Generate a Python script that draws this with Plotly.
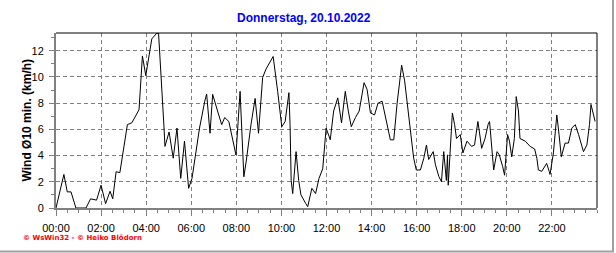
import pandas as pd
import plotly.graph_objects as go

times = ["00:00","00:21","00:30","00:40","00:53","01:20","01:32","01:48","02:00","02:12",
         "02:24","02:31","02:40","02:50","03:10","03:22","03:41","03:50","03:59","04:06",
         "04:15","04:27","04:33","04:47","04:50","05:01","05:12","05:22","05:32","05:42",
         "05:53","06:02","06:22","06:36","06:41","06:50","06:57","07:10","07:21","07:29",
         "07:40","07:59","08:10","08:20","08:26","08:39","08:50","08:59","09:10","09:19",
         "09:38","09:50","10:01","10:10","10:17","10:20","10:23","10:26","10:30","10:39",
         "10:46","10:52","11:05","11:10","11:21","11:31","11:40","11:50","11:59","12:10",
         "12:19","12:30","12:40","12:50","12:58","13:06","13:17","13:27","13:40","13:48",
         "13:57","14:08","14:17","14:28","14:50","14:59","15:08","15:20","15:28","15:39",
         "15:52","15:59","16:10","16:19","16:26","16:32","16:44","16:50","16:59","17:06",
         "17:12","17:19","17:22","17:24","17:35","17:41","17:46","17:56","18:03","18:14",
         "18:26","18:34","18:43","18:47","18:53","19:02","19:10","19:14","19:22","19:25",
         "19:34","19:40","19:49","19:54","20:02","20:07","20:13","20:20","20:25","20:31",
         "20:35","20:49","21:02","21:14","21:20","21:24","21:33","21:42","21:46","21:53",
         "21:55","22:04","22:13","22:19","22:25","22:35","22:44","22:53","23:02","23:11",
         "23:24","23:33","23:40","23:44","23:49","23:55"]
wind = [0, 2.56, 1.23, 1.23, 0, 0, 0.7, 0.6, 1.74, 0.33,
        1.28, 0.7, 2.77, 2.7, 6.36, 6.5, 7.5, 11.6, 10.1, 11.5,
        12.9, 13.3, 13.35, 6.4, 4.7, 5.8, 3.8, 6.1, 2.26, 5.1,
        1.5, 2.26, 6.1, 8.15, 8.7, 5.7, 8.67, 7.4, 6.36, 6.9,
        6.6, 4.05, 8.9, 2.38, 3.5, 6.36, 8.36, 5.7, 9.95, 10.6,
        11.56, 8.9, 6.2, 6.6, 7.9, 8.8, 6.36, 2.1, 1.1, 4.3,
        2.1, 1.0, 0.33, 0.1, 1.5, 1.1, 2.26, 3.0, 6.1, 5.2,
        7.4, 8.4, 6.5, 8.9, 7.4, 6.2, 6.9, 7.4, 9.56, 9.05,
        7.25, 7.1, 8.0, 8.15, 5.2, 5.2, 8.0, 10.9, 9.7, 7.1,
        3.8, 2.9, 2.9, 3.8, 4.8, 3.7, 4.3, 3.3, 2.4, 2.0,
        4.3, 2.1, 4.05, 1.74, 7.25, 6.36, 5.3, 5.6, 4.2, 5.1,
        4.7, 4.8, 6.6, 5.8, 4.55, 5.3, 6.36, 6.6, 3.4, 2.9,
        4.3, 4.05, 3.15, 2.5, 5.6, 5.1, 3.9, 5.3, 8.5, 7.4,
        5.3, 5.1, 4.7, 4.5, 3.8, 2.9, 2.8, 3.15, 3.4, 2.77,
        2.56, 4.2, 7.1, 5.6, 3.9, 4.95, 4.95, 6.1, 6.36, 5.6,
        4.3, 4.8, 6.36, 7.9, 7.25, 6.6]

date = "2022-10-20"
title_text = "Donnerstag, 20.10.2022"
y_title = "Wind Ø10 min. (km/h)"
credit = "© WsWin32 - © Heiko Blödorn"
x_tick_labels = ["00:00", "02:00", "04:00", "06:00", "08:00", "10:00",
                 "12:00", "14:00", "16:00", "18:00", "20:00", "22:00"]
y_ticks = [0, 2, 4, 6, 8, 10, 12]

x = pd.to_datetime([f"{date} {t}" for t in times])
x_tick_pos = pd.to_datetime([f"{date} {t}" for t in x_tick_labels])
day0 = pd.Timestamp(f"{date} 00:00")

fig = go.Figure()
fig.add_trace(go.Scatter(x=x, y=wind, mode="lines",
                         line=dict(color="black", width=1), hoverinfo="skip"))

W, H = 616, 253
L, R, T, B = 56, 19, 33, 45
fig.update_layout(
    width=W, height=H,
    margin=dict(l=L, r=R, t=T, b=B),
    paper_bgcolor="white", plot_bgcolor="white",
    showlegend=False,
    font=dict(family="Liberation Sans, Arial, sans-serif", size=11, color="black"),
    title=dict(text=f"<b>{title_text}</b>", x=0.493, xanchor="center",
               y=1 - 18 / H, yanchor="middle",
               font=dict(size=12, color="#0000FF")),
)
fig.update_xaxes(
    range=[day0, day0 + pd.Timedelta(hours=24)],
    tickvals=x_tick_pos, ticktext=x_tick_labels,
    ticks="outside", ticklen=6, tickcolor="#808080", tickwidth=1,
    showline=True, linecolor="#808080", linewidth=2,
    showgrid=True, gridcolor="#808080", gridwidth=1, griddash="4px,3px",
    zeroline=False, ticklabelstandoff=3,
    minor=dict(dtick=30 * 60 * 1000, tick0=day0, ticks="outside",
               ticklen=3, tickcolor="#808080", showgrid=False),
)
fig.update_yaxes(
    range=[0, 13.35], tickvals=y_ticks,
    ticks="outside", ticklen=5, tickcolor="#808080", tickwidth=1,
    showline=True, linecolor="#808080", linewidth=2,
    showgrid=True, gridcolor="#808080", gridwidth=1, griddash="4px,3px",
    zeroline=False, ticklabelstandoff=3,
    minor=dict(dtick=1, ticks="outside", ticklen=3, tickcolor="#808080", showgrid=False),
)

pw, ph = W - L - R, H - T - B
def px(v):
    return (v - L) / pw
def py(v):
    return (H - B - v) / ph

# y-axis title
fig.add_annotation(text=f"<b>{y_title}</b>", xref="paper", yref="paper",
                   x=px(26), y=0.5, textangle=-90, showarrow=False,
                   xanchor="center", yanchor="middle", font=dict(size=12))

# top and right black border of the plot area
fig.add_shape(type="line", xref="paper", yref="paper", x0=0, x1=1, y0=1, y1=1,
              line=dict(color="black", width=1))
fig.add_shape(type="line", xref="paper", yref="paper", x0=1, x1=1, y0=0, y1=1,
              line=dict(color="black", width=1))
# outer grey frame (right and bottom)
fig.add_shape(type="line", xref="paper", yref="paper", x0=px(613), x1=px(613), y0=py(0), y1=py(251.5),
              line=dict(color="#a0a0a0", width=2))
fig.add_shape(type="line", xref="paper", yref="paper", x0=px(0), x1=px(614), y0=py(251.5), y1=py(251.5),
              line=dict(color="#a0a0a0", width=2))

fig.add_annotation(text=f"<b>{credit}</b>", xref="paper", yref="paper", x=px(21), y=py(238),
                   xanchor="left", yanchor="middle", showarrow=False,
                   font=dict(size=7, color="#FF0000", family="DejaVu Sans, sans-serif"))

fig.write_html("out.html")
